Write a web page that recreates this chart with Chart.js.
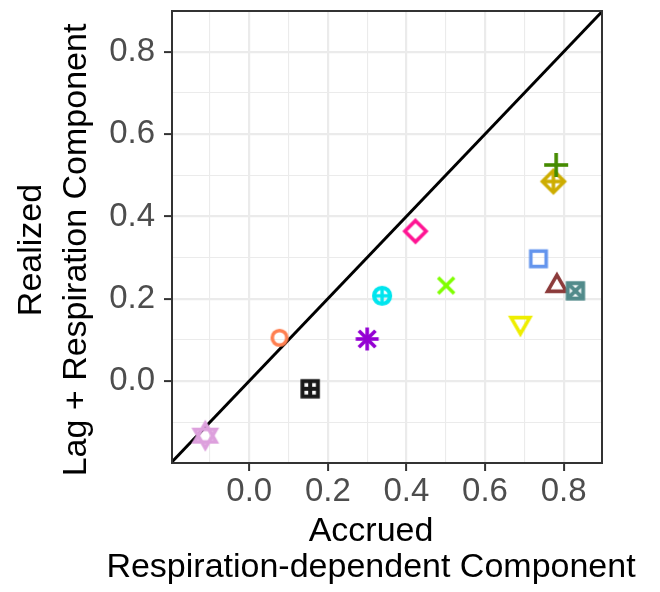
<!DOCTYPE html>
<html>
<head>
<meta charset="utf-8">
<script src="https://cdn.jsdelivr.net/npm/chart.js@4"></script>
<style>
  html, body { margin: 0; padding: 0; background: #fff; }
  #wrap { width: 660px; height: 592px; }
</style>
</head>
<body>
<div id="wrap"><canvas id="grafico"></canvas></div>
<script>
// dados
const sites = ['S1', 'S2', 'S3', 'S4', 'S5', 'S6', 'S7', 'S8', 'S9', 'S10', 'S11', 'S12', 'S13'];
const accrued = [-0.112, 0.077, 0.155, 0.300, 0.338, 0.423, 0.501, 0.690, 0.736, 0.783, 0.830, 0.774, 0.781];
const realized = [-0.133, 0.105, -0.019, 0.102, 0.207, 0.364, 0.232, 0.141, 0.297, 0.231, 0.219, 0.485, 0.525];
const tickValues = [-0.1, 0.0, 0.1, 0.2, 0.3, 0.4, 0.5, 0.6, 0.7, 0.8];
const tickLabels = ['', '0.0', '', '0.2', '', '0.4', '', '0.6', '', '0.8'];
const identityLine = [-0.3, 1.0];

// estilos (formas e cores de cada ponto)
const formas = ['sixstar', 'circle', 'boxplus', 'asterisk', 'circleplus', 'diamond', 'x',
                'triangleDown', 'square', 'triangle', 'boxcross', 'diamondplus', 'plus'];
const cores = ['#DDA0DD', '#FF7F50', '#1A1A1A', '#9400D3', '#00E5EE', '#FF1493', '#7FFF00',
               '#EEEE00', '#6495ED', '#8B3A3A', '#528B8B', '#CDAD00', '#458B00'];

function marcador(forma, cor) {
    const c = document.createElement('canvas');
    c.width = 38; c.height = 38;
    const g = c.getContext('2d');
    g.translate(19, 19);
    g.strokeStyle = cor;
    g.lineWidth = 3.6;
    g.lineJoin = 'miter';
    const linha = (x1, y1, x2, y2) => { g.beginPath(); g.moveTo(x1, y1); g.lineTo(x2, y2); g.stroke(); };
    const tri = (r, s) => {
        g.beginPath();
        g.moveTo(0, -r * s);
        g.lineTo(r * 0.866, r * 0.5 * s);
        g.lineTo(-r * 0.866, r * 0.5 * s);
        g.closePath(); g.stroke();
    };
    const dia = (r) => {
        g.beginPath(); g.moveTo(0, -r); g.lineTo(r, 0); g.lineTo(0, r); g.lineTo(-r, 0); g.closePath(); g.stroke();
    };
    switch (forma) {
        case 'circle':
            g.beginPath(); g.arc(0, 0, 7.3, 0, Math.PI * 2); g.stroke(); break;
        case 'square':
            g.strokeRect(-7.7, -7.7, 15.4, 15.4); break;
        case 'diamond':
            dia(10.6); break;
        case 'triangle':
            tri(10.8, 1); break;
        case 'triangleDown':
            tri(10.8, -1); break;
        case 'plus':
            linha(-12, 0, 12, 0); linha(0, -12, 0, 12); break;
        case 'x':
            linha(-8, -8, 8, 8); linha(-8, 8, 8, -8); break;
        case 'asterisk':
            linha(-11.5, 0, 11.5, 0); linha(0, -11.5, 0, 11.5);
            linha(-8.3, -8.3, 8.3, 8.3); linha(-8.3, 8.3, 8.3, -8.3); break;
        case 'circleplus':
            g.lineWidth = 4.2;
            g.beginPath(); g.arc(0, 0, 8, 0, Math.PI * 2); g.stroke();
            g.lineWidth = 3.4;
            linha(-8.2, 0, 8.2, 0); linha(0, -8.2, 0, 8.2); break;
        case 'boxplus':
            g.lineWidth = 4;
            g.strokeRect(-7.7, -7.7, 15.4, 15.4);
            linha(-7.7, 0, 7.7, 0); linha(0, -7.7, 0, 7.7); break;
        case 'boxcross':
            g.lineWidth = 4;
            g.strokeRect(-7.7, -7.7, 15.4, 15.4);
            linha(-7.7, -7.7, 7.7, 7.7); linha(-7.7, 7.7, 7.7, -7.7); break;
        case 'diamondplus':
            dia(11);
            linha(-11, 0, 11, 0); linha(0, -11, 0, 11); break;
        case 'sixstar':
            tri(12.5, 1); tri(12.5, -1); break;
    }
    return c;
}

const pontos = sites.map((s, i) => ({ x: accrued[i], y: realized[i] }));
const imagens = formas.map((f, i) => marcador(f, cores[i]));

const fonteTick = { family: '"Liberation Sans", Arial, Helvetica, sans-serif', size: 33 };

function eixo(min, max) {
    return {
        type: 'linear',
        min: min,
        max: max,
        afterBuildTicks: (scale) => { scale.ticks = tickValues.map(v => ({ value: v })); },
        ticks: {
            color: '#4D4D4D',
            font: fonteTick,
            autoSkip: false,
            maxRotation: 0,
            callback: (v, i) => tickLabels[i]
        },
        grid: {
            color: '#EBEBEB',
            lineWidth: (ctx) => (tickLabels[ctx.index] ? 2.2 : 1.1),
            tickColor: (ctx) => (tickLabels[ctx.index] ? '#333333' : 'rgba(0,0,0,0)'),
            tickWidth: 2,
            tickLength: 8
        },
        border: { display: false }
    };
}

const escalaX = eixo(-0.1967, 0.8977);
escalaX.ticks.padding = 1;
escalaX.afterFit = (scale) => {
    scale.height = 129;
    scale.paddingLeft = 0; scale.paddingRight = 0;
};
const escalaY = eixo(-0.1995, 0.8994);
escalaY.ticks.padding = 9;
escalaY.afterFit = (scale) => {
    scale.width = 172;
    scale.paddingTop = 0; scale.paddingBottom = 0;
};

// borda do painel e títulos dos eixos
const extras = {
    id: 'extras',
    afterDraw(chart) {
        const ctx = chart.ctx;
        const a = chart.chartArea;
        ctx.save();
        ctx.strokeStyle = '#333333';
        ctx.lineWidth = 2;
        ctx.strokeRect(a.left, a.top, a.right - a.left, a.bottom - a.top);

        ctx.fillStyle = '#000000';
        ctx.font = '34px "Liberation Sans", Arial, Helvetica, sans-serif';
        ctx.textAlign = 'center';
        ctx.textBaseline = 'alphabetic';
        ctx.fillText('Accrued', 371, 541);
        ctx.fillText('Respiration-dependent Component', 371, 577);

        ctx.translate(0, 250);
        ctx.rotate(-Math.PI / 2);
        ctx.fillText('Realized', 0, 41);
        ctx.fillText('Lag + Respiration Component', 0, 86);
        ctx.restore();
    }
};

new Chart(document.getElementById('grafico').getContext('2d'), {
    type: 'scatter',
    data: {
        datasets: [
            {
                type: 'line',
                label: 'y = x',
                data: identityLine.map(v => ({ x: v, y: v })),
                borderColor: '#000000',
                borderWidth: 3,
                pointRadius: 0,
                fill: false,
                order: 2
            },
            {
                label: 'Sites',
                data: pontos,
                pointStyle: imagens,
                pointRadius: 10,
                pointHoverRadius: 10,
                order: 1
            }
        ]
    },
    options: {
        responsive: true,
        maintainAspectRatio: false,
        animation: false,
        layout: { padding: { top: 10, right: 58, left: 0, bottom: 0 } },
        scales: { x: escalaX, y: escalaY },
        plugins: {
            legend: { display: false },
            tooltip: { enabled: false }
        }
    },
    plugins: [extras]
});
</script>
</body>
</html>
